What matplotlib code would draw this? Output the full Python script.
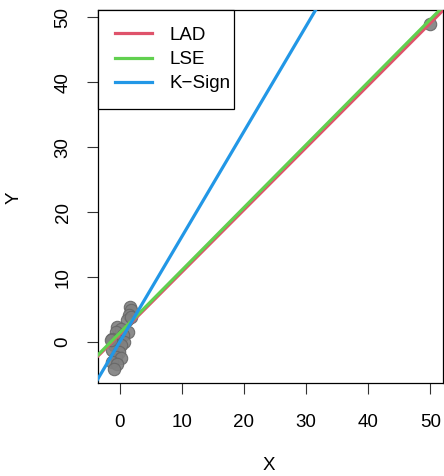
import numpy as np
import matplotlib
matplotlib.use("Agg")
import matplotlib.pyplot as plt
from matplotlib.patches import Rectangle

# data points
x_pts = [1.68, 1.84, 1.57, 1.19, 1.84, -0.33, 0.21, -0.60, 1.30, 0.49, -1.14, -0.33,
         0.76, -0.87, 0.21, -1.14, -0.05, -0.60, 0.21, -1.14, -0.33, -0.87, -1.41, 50.0]
y_pts = [5.43, 4.92, 4.15, 3.38, 3.90, 2.36, 2.10, 1.60, 1.60, 1.08, 0.57, 0.31,
         0.05, -0.46, -0.46, -1.23, -1.49, -2.26, -2.50, -3.03, -3.28, -4.05, 0.31, 49.0]

# fitted lines: (intercept, slope)
fit_names = ["LAD", "LSE", "K\u2212Sign"]
fit_intercepts = [1.2, 1.4, 0.0]
fit_slopes = [0.958, 0.965, 1.62]
fit_colors = ["#DF536B", "#61D04F", "#2297E6"]

x_ticks = [0, 10, 20, 30, 40, 50]
y_ticks = [0, 10, 20, 30, 40, 50]

plt.rcParams['font.family'] = ['Liberation Sans', 'DejaVu Sans']
FS = 13.5

fig = plt.figure(figsize=(4.44, 4.76), dpi=100)
ax = fig.add_axes([98/444, 1-383/476, (443-98)/444, (383-10)/476])

ax.scatter(x_pts, y_pts, s=80, c="#808080", edgecolors="#666666", linewidths=0.8,
           alpha=0.9, zorder=2)

xmin, xmax = min(x_pts), max(x_pts)
ymin, ymax = min(y_pts), max(y_pts)
xr = xmax - xmin
yr = ymax - ymin
ax.set_xlim(xmin - 0.04*xr, xmax + 0.04*xr)
ax.set_ylim(ymin - 0.04*yr - 0.1, ymax + 0.04*yr)

xx = np.array([-10, 60])
for name, b, m, col in zip(fit_names, fit_intercepts, fit_slopes, fit_colors):
    ax.plot(xx, b + m*xx, color=col, lw=2.3, label=name, zorder=3)

ax.set_xticks(x_ticks)
ax.set_yticks(y_ticks)
ax.tick_params(axis='both', direction='out', length=8, width=0.8, labelsize=FS,
               color='#333333')
ax.tick_params(axis='x', pad=14)
ax.tick_params(axis='y', pad=11)
for lab in ax.get_yticklabels():
    lab.set_rotation(90)
    lab.set_va('center')
for sp in ax.spines.values():
    sp.set_linewidth(0.9)

fig.text(269/444, 1-465/476, "X", ha='center', va='center', fontsize=FS)
fig.text(14/444, 1-198/476, "Y", ha='center', va='center', fontsize=FS, rotation=90)

leg = ax.legend(loc='upper left', borderaxespad=0, fancybox=False, frameon=False,
                fontsize=FS, handlelength=2.0, handletextpad=0.9,
                labelspacing=0.37, borderpad=0.9)
leg.set_zorder(5)

# R-style legend box: tight on the right side
fig.canvas.draw()
bb = leg.get_window_extent()
inv = fig.transFigure.inverted()
(x0, y0), (x1, y1) = inv.transform([[bb.x0, bb.y0], [bb.x1, bb.y1]])
trim = 13 / 444
rect = Rectangle((x0, y0), (x1 - x0) - trim, y1 - y0, transform=fig.transFigure,
                 facecolor='white', edgecolor='black', linewidth=0.9, zorder=4)
ax.add_artist(rect)
rect.set_clip_on(False)

fig.savefig("out.png", dpi=100)
